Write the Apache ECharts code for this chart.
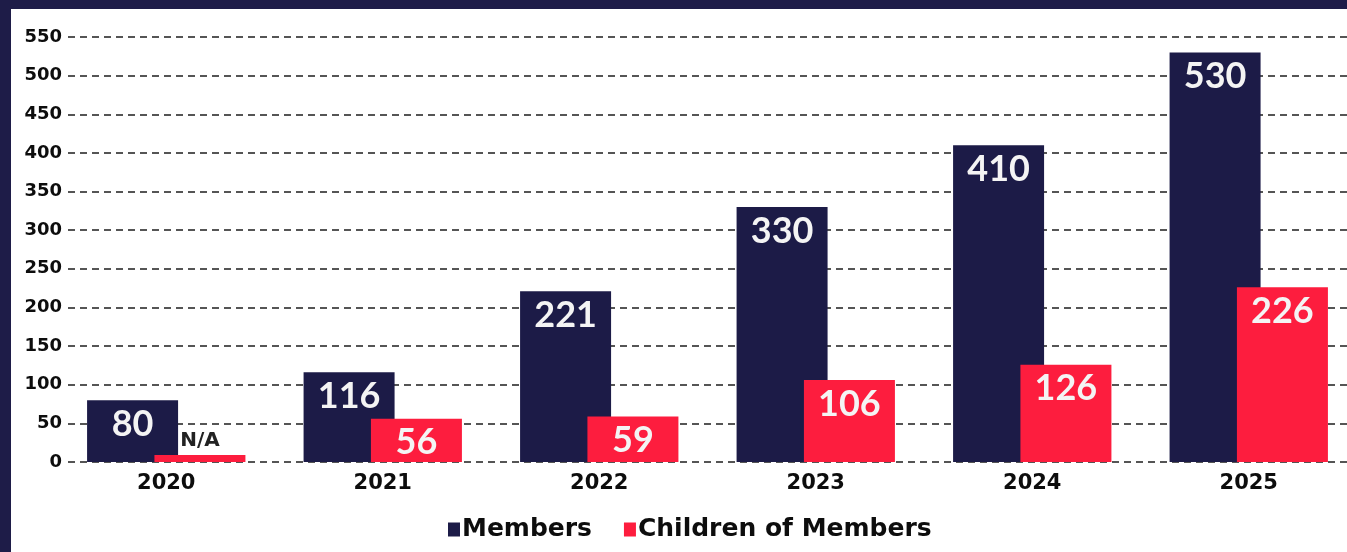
<!DOCTYPE html>
<html>
<head>
<meta charset="utf-8">
<style>
  html, body { margin: 0; padding: 0; background: #ffffff; overflow: hidden; }
  #chart { width: 1360px; height: 552px; }
</style>
<script src="https://cdn.jsdelivr.net/npm/echarts@6/dist/echarts.min.js"></script>
</head>
<body>
<div id="chart"></div>
<script>
// Membership counts per year
const years = ['2020', '2021', '2022', '2023', '2024', '2025'];
const members = [80, 116, 221, 330, 410, 530];
// 2020 had no count for children; a thin stub bar carries the "N/A" label
const children = [9, 56, 59, 106, 126, 226];
const childrenLabels = ['N/A', '56', '59', '106', '126', '226'];
const yTicks = { min: 0, max: 550, interval: 50 };

const NAVY = '#1c1b47';
const RED = '#fd1d3e';
const axisFont = 'DejaVu Sans';
const barFont = 'Lato';

const chart = echarts.init(document.getElementById('chart'), null, { renderer: 'canvas' });

chart.setOption({
  backgroundColor: '#ffffff',
  animation: false,
  graphic: [
    { type: 'rect', left: 0, top: 0, shape: { width: 1360, height: 9 }, style: { fill: '#1e1c48' }, z: 100 },
    { type: 'rect', left: 0, top: 0, shape: { width: 11, height: 552 }, style: { fill: '#1e1c48' }, z: 100 }
  ],
  grid: [
    // value scale and dashed guide lines
    { left: 68, right: 0, top: 37, bottom: 90 },
    // bars and year labels
    { left: 58, width: 1299, top: 37, bottom: 90 }
  ],
  legend: {
    data: ['Members', 'Children of Members'],
    left: 443,
    top: 512,
    itemWidth: 12,
    itemHeight: 14,
    itemGap: 32,
    icon: 'rect',
    textStyle: { fontFamily: axisFont, fontWeight: 'bold', fontSize: 25, color: '#0d0d0d', padding: [0, 0, 0, -3] }
  },
  xAxis: [
    { type: 'category', gridIndex: 0, data: years, show: false },
    {
      type: 'category', gridIndex: 1, data: years,
      axisLine: { show: false }, axisTick: { show: false },
      axisLabel: { fontFamily: axisFont, fontWeight: 'bold', fontSize: 21, color: '#0d0d0d', margin: 11 }
    }
  ],
  yAxis: [
    {
      type: 'value', gridIndex: 0, min: yTicks.min, max: yTicks.max, interval: yTicks.interval,
      axisLine: { show: false }, axisTick: { show: false },
      axisLabel: { fontFamily: axisFont, fontWeight: 'bold', fontSize: 18, color: '#0d0d0d', margin: 6 },
      splitLine: { show: true, lineStyle: { color: '#555555', width: 2, type: [7, 5] } }
    },
    {
      type: 'value', gridIndex: 1, min: yTicks.min, max: yTicks.max, interval: yTicks.interval,
      show: false, splitLine: { show: false }
    }
  ],
  series: [
    {
      name: 'Members', type: 'bar', xAxisIndex: 1, yAxisIndex: 1,
      data: members, barWidth: 91, barGap: '-26%',
      itemStyle: { color: NAVY },
      label: {
        show: true, position: 'insideTop', distance: 6,
        fontFamily: barFont, fontWeight: 'bold', fontSize: 36, color: '#f4f4f4'
      },
      z: 2
    },
    {
      name: 'Children of Members', type: 'bar', xAxisIndex: 1, yAxisIndex: 1,
      data: children.map((v, i) => {
        const item = { value: v };
        if (childrenLabels[i] === 'N/A') {
          item.label = {
            position: 'top', distance: 4, fontFamily: axisFont, fontSize: 20, color: '#222222'
          };
        }
        return item;
      }),
      barWidth: 91,
      itemStyle: { color: RED },
      label: {
        show: true, position: 'insideTop', distance: 6,
        fontFamily: barFont, fontWeight: 'bold', fontSize: 36, color: '#f4f4f4',
        formatter: (p) => childrenLabels[p.dataIndex]
      },
      z: 3
    }
  ]
});
</script>
</body>
</html>
